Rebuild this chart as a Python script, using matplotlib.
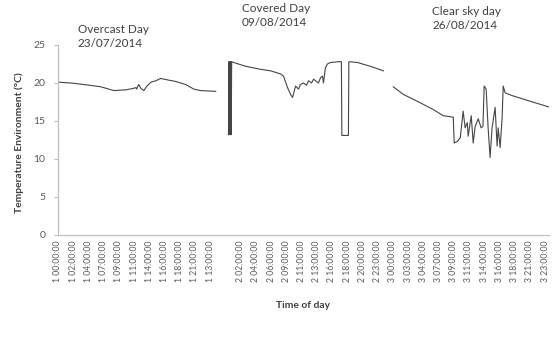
import matplotlib
matplotlib.use("Agg")
import matplotlib.pyplot as plt

plt.rcParams['font.family'] = ['Lato', 'DejaVu Sans']

# Category-axis tick labels (one per category slot)
tick_labels = [
    "1 00:00:00", "1 02:00:00", "1 04:00:00", "1 07:00:00", "1 09:00:00",
    "1 11:00:00", "1 14:00:00", "1 16:00:00", "1 18:00:00", "1 21:00:00",
    "1 13:00:00", "",
    "2 02:00:00", "2 04:00:00", "2 06:00:00", "2 09:00:00", "2 11:00:00",
    "2 13:00:00", "2 16:00:00", "2 18:00:00", "2 20:00:00", "2 23:00:00",
    "3 00:00:00", "3 03:00:00", "3 04:00:00", "3 07:00:00", "3 09:00:00",
    "3 11:00:00", "3 14:00:00", "3 16:00:00", "3 18:00:00", "3 21:00:00",
    "3 23:00:00",
]

# Overcast day 23/07/2014
day1_pos = [0.07, 0.85, 1.70, 2.82, 3.67, 4.46, 4.98, 5.12, 5.18, 5.25, 5.31,
            5.44, 5.64, 5.84, 6.10, 6.43, 6.75, 7.21, 7.74, 8.39, 8.92, 9.38,
            10.36]
day1_temp = [20.1, 20.0, 19.8, 19.5, 19.0, 19.1, 19.3, 19.4, 19.2, 19.6, 19.8,
             19.3, 19.0, 19.6, 20.1, 20.3, 20.6, 20.4, 20.2, 19.8, 19.2, 19.0,
             18.9]

# Covered day 09/08/2014
day2_pos = [11.20, 11.23, 11.26, 11.29, 11.32, 11.35, 11.38, 11.41, 11.54,
            12.33, 13.31, 13.97, 14.62, 14.82, 15.08, 15.28, 15.41, 15.61,
            15.80, 15.93, 16.13, 16.33, 16.46, 16.66, 16.79, 16.98, 17.11,
            17.25, 17.38, 17.44, 17.57, 17.70, 17.90, 18.43, 18.62, 18.65,
            19.08, 19.11, 19.67, 20.52, 21.38]
day2_temp = [13.2, 22.8, 13.2, 22.8, 13.2, 22.8, 13.2, 22.8, 22.7,
             22.2, 21.8, 21.6, 21.2, 20.9, 19.4, 18.5, 18.1, 19.6,
             19.2, 19.8, 20.0, 19.7, 20.3, 20.0, 20.5, 20.2, 20.0,
             20.7, 20.9, 20.0, 22.0, 22.5, 22.7, 22.8, 22.8, 13.1,
             13.1, 22.8, 22.7, 22.2, 21.6]

# Clear sky day 26/08/2014
day3_pos = [22.03, 22.69, 23.80, 24.66, 25.31, 25.97, 26.03, 26.23, 26.43,
            26.62, 26.75, 26.89, 26.95, 27.15, 27.28, 27.41, 27.61, 27.80,
            27.92, 28.00, 28.13, 28.26, 28.39, 28.52, 28.72, 28.85, 28.92,
            29.05, 29.18, 29.25, 29.38, 29.90, 31.02, 32.33]
day3_temp = [19.5, 18.5, 17.4, 16.5, 15.7, 15.5, 12.1, 12.3, 12.8,
             16.3, 14.1, 14.8, 13.0, 15.7, 12.1, 14.3, 15.3, 14.1,
             14.3, 19.6, 19.2, 14.1, 10.2, 14.1, 16.8, 11.7, 14.1,
             11.5, 15.4, 19.6, 18.7, 18.3, 17.6, 16.8]

line_color = "#454545"
text_color = "#404040"
axis_color = "#c0c0c0"

fig = plt.figure(figsize=(5.56, 3.37), dpi=100)
ax = fig.add_axes([58 / 556, 1 - 235 / 337, (549 - 58) / 556, (235 - 45) / 337])

for xs, ys in [(day1_pos, day1_temp), (day2_pos, day2_temp), (day3_pos, day3_temp)]:
    ax.plot(xs, ys, color=line_color, linewidth=0.8)

ax.set_xlim(0, 32.26)
ax.set_ylim(0, 25)
ax.set_yticks([0, 5, 10, 15, 20, 25])
ax.set_xticks(range(len(tick_labels)))
ax.set_xticklabels(tick_labels, rotation=90, fontsize=6.2, color="#595959")
ax.tick_params(axis="x", length=0, pad=4)
ax.tick_params(axis="y", length=3, color=axis_color, labelsize=7.5,
               labelcolor="#595959", pad=6)

for side in ["top", "right"]:
    ax.spines[side].set_visible(False)
for side in ["left", "bottom"]:
    ax.spines[side].set_color(axis_color)
    ax.spines[side].set_linewidth(0.9)

fig.text(19 / 556, 1 - 143 / 337, "Temperature Environment (°C)", rotation=90,
         ha="center", va="center", fontsize=7.4, fontweight="bold", color=text_color)
fig.text(303 / 556, 1 - 306 / 337, "Time of day", ha="center", va="center",
         fontsize=7.4, fontweight="bold", color=text_color)

annotations = [
    (78, 24, "Overcast Day\n23/07/2014"),
    (242, 3, "Covered Day\n09/08/2014"),
    (432, 6, "Clear sky day\n26/08/2014"),
]
for px, py, txt in annotations:
    fig.text(px / 556, 1 - py / 337, txt, ha="left", va="top", fontsize=8.5,
             color=text_color, linespacing=1.35)

fig.savefig("out.png", dpi=100)
